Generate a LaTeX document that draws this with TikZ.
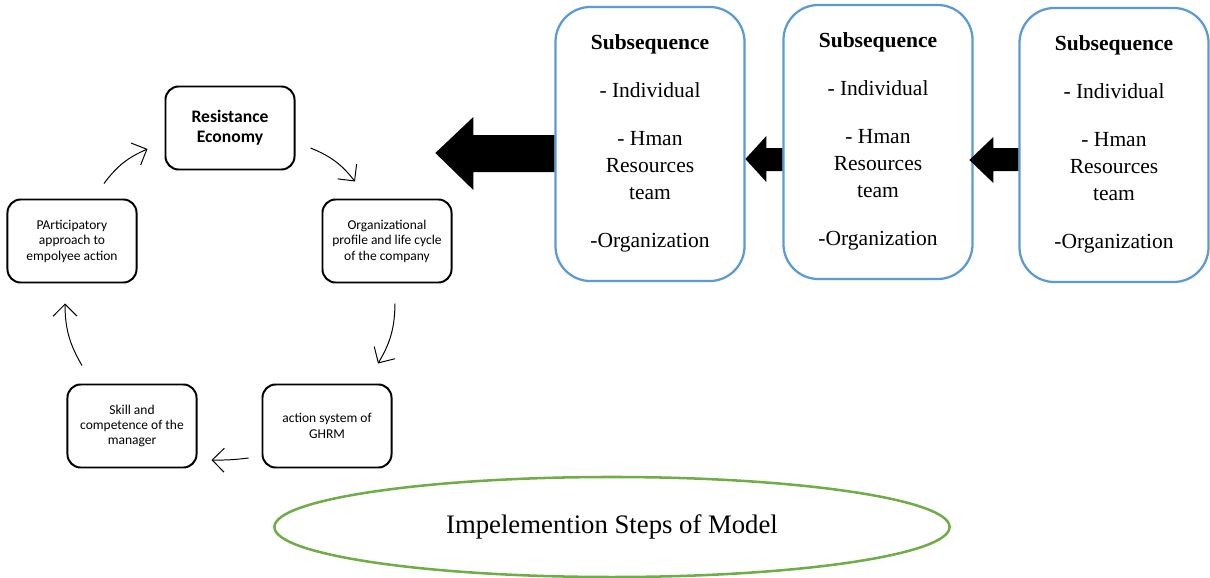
\documentclass[tikz,border=0pt]{standalone}
\usepackage{fontspec}
\setmainfont{Liberation Serif}
\newfontfamily\cyclefont{Carlito}
\usetikzlibrary{shapes.geometric, arrows.meta, calc}
\definecolor{SoftBlue}{RGB}{91, 155, 213}
\definecolor{LeafGreen}{RGB}{112, 173, 71}

\begin{document}
\begin{tikzpicture}[
            x=0.025cm, y=-0.025cm,
            cyclebox/.style={draw=black, line width=1.4pt, rounded corners=0.33cm, fill=white, minimum width=3.225cm, minimum height=2.075cm, align=center, font=\cyclefont\fontsize{9.6}{11}\selectfont},
            subbox/.style={draw=SoftBlue, line width=1.6pt, rounded corners=0.875cm, fill=white, minimum width=4.725cm, minimum height=6.85cm, align=center, font=\fontsize{15.3}{19.2}\selectfont},
            flow/.style={-{Straight Barb[length=3mm, width=6mm]}, line width=0.7pt}
        ]
            \useasboundingbox (0,0) rectangle (1210,578);

            % cycle of the model
            \node[cyclebox, font=\cyclefont\bfseries\fontsize{12.5}{14.5}\selectfont] (resist) at (230,128) {Resistance\\Economy};
            \node[cyclebox] (profile) at (387,241) {Organizational\\profile and life cycle\\of the company};
            \node[cyclebox] (ghrm) at (327,426) {action system of\\GHRM};
            \node[cyclebox] (skill) at (132,426) {Skill and\\competence of the\\manager};
            \node[cyclebox] (particip) at (72,241) {PArticipatory\\approach to\\empolyee action};

            \draw[flow] ([shift={(32,-15)}]particip.north) to[bend left=15] ([shift={(-17,21)}]resist.west);
            \draw[flow] ([shift={(15,20)}]resist.east) to[bend left=15] ([shift={(-32,-17)}]profile.north);
            \draw[flow] ([shift={(8,20)}]profile.south) to[bend left=15] ([shift={(51,-20)}]ghrm.north);
            \draw[flow] ([shift={(-13,32)}]ghrm.west) to[bend left=4] ([shift={(14,34)}]skill.east);
            \draw[flow] ([shift={(-50,-18)}]skill.north) to[bend left=15] ([shift={(-7,20)}]particip.south);

            % subsequences
            \node[subbox] (subA) at (650,144) {\textbf{Subsequence}\\[15pt] - Individual\\[15pt] - Hman\\Resources\\team\\[15pt] -Organization\\[-15pt]\mbox{}};
            \node[subbox] (subB) at (878,142) {\textbf{Subsequence}\\[15pt] - Individual\\[15pt] - Hman\\Resources\\team\\[15pt] -Organization\\[-15pt]\mbox{}};
            \node[subbox] (subC) at (1114,145) {\textbf{Subsequence}\\[15pt] - Individual\\[15pt] - Hman\\Resources\\team\\[15pt] -Organization\\[-15pt]\mbox{}};

            \fill ($(subA.west)+(0,-9)$) -- ++(-81,0) -- ++(0,-18) -- ++(-38,36) -- ++(38,37) -- ++(0,-18) -- ++(81,0) -- cycle;
            \fill ($(subB.west)+(0,6)$) -- ++(-16,0) -- ++(0,-12) -- ++(-21,23) -- ++(21,23) -- ++(0,-11) -- ++(16,0) -- cycle;
            \fill ($(subC.west)+(0,3)$) -- ++(-25,0) -- ++(0,-11) -- ++(-24,23) -- ++(24,23) -- ++(0,-12) -- ++(25,0) -- cycle;

            \node[ellipse, draw=LeafGreen, line width=1.8pt, minimum width=16.875cm, minimum height=2.5cm, font=\fontsize{19}{22}\selectfont] (title) at (612,527) {Impelemention Steps of Model};
        \end{tikzpicture}
\end{document}
